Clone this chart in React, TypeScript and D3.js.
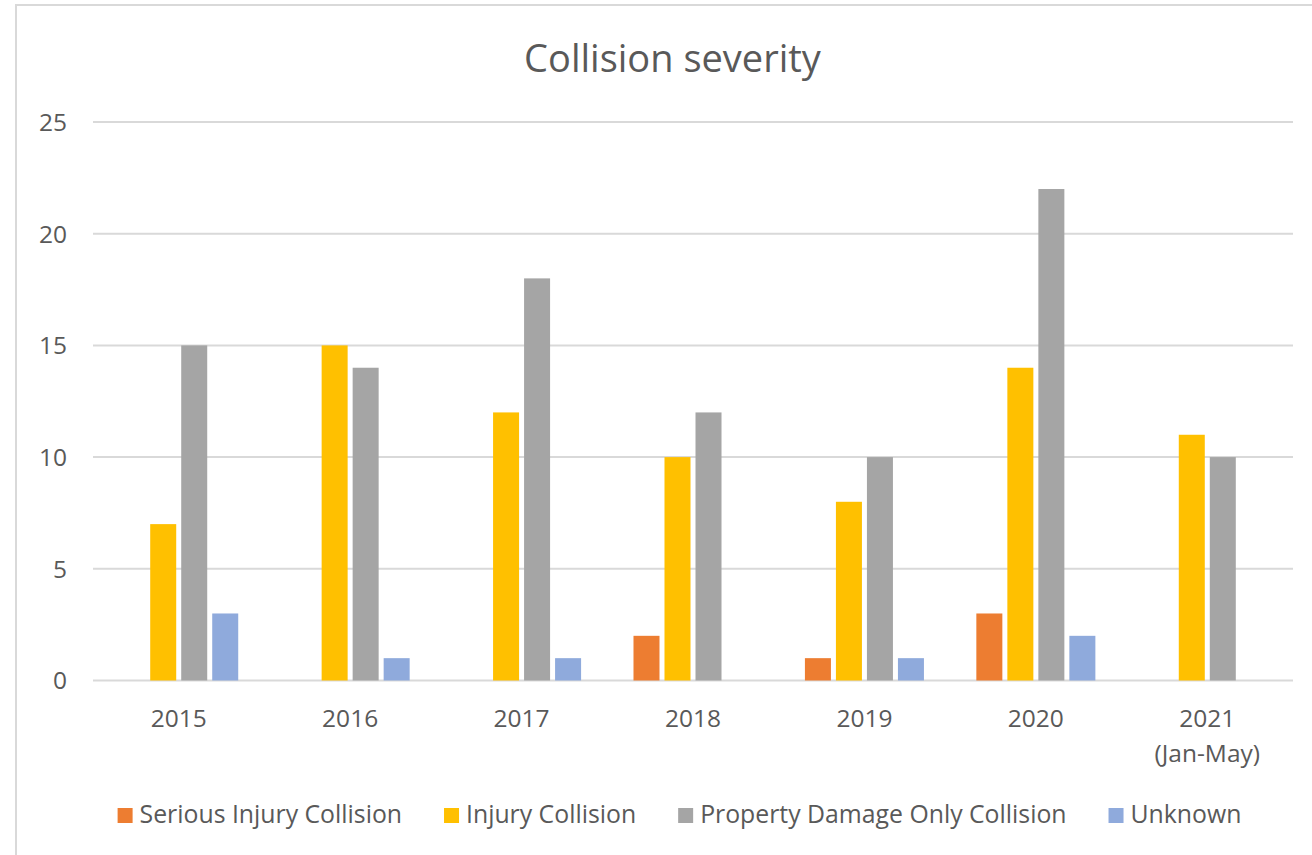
import React, { useRef, useEffect } from 'react';
import * as d3 from 'd3';

const years = ['2015', '2016', '2017', '2018', '2019', '2020', '2021\n(Jan-May)'];
const seriesNames = ['Serious Injury Collision', 'Injury Collision', 'Property Damage Only Collision', 'Unknown'];
const seriousInjury = [0, 0, 0, 2, 1, 3, 0];
const injury = [7, 15, 12, 10, 8, 14, 11];
const propertyDamage = [15, 14, 18, 12, 10, 22, 10];
const unknown = [3, 1, 1, 0, 1, 2, 0];
const yTicks = [0, 5, 10, 15, 20, 25];
const colors = ['#ED7D31', '#FFC000', '#A5A5A5', '#8FAADC'];

const FONT = '"Open Sans", "DejaVu Sans", sans-serif';
const TEXT = '#595959';

const App: React.FC = () => {
  const ref = useRef<SVGSVGElement>(null);

  useEffect(() => {
    const svg = d3.select(ref.current);
    svg.selectAll('*').remove();
    const width = 1312;
    const height = 855;
    const margin = { top: 122, right: 19, bottom: 174.5, left: 93 };

    svg.attr('width', width).attr('height', height);

    // chart frame (cropped on right and bottom)
    svg.append('rect')
      .attr('x', 16).attr('y', 5)
      .attr('width', width).attr('height', height)
      .attr('fill', '#fff')
      .attr('stroke', '#D9D9D9')
      .attr('stroke-width', 2);

    const values = [seriousInjury, injury, propertyDamage, unknown];

    const x0 = d3.scaleBand<string>()
      .domain(years)
      .range([margin.left, width - margin.right]);

    const x1 = d3.scaleBand<string>()
      .domain(seriesNames)
      .range([0, x0.bandwidth()])
      .paddingInner(5 / 31)
      .paddingOuter(0.845);

    const y = d3.scaleLinear()
      .domain([0, 25])
      .range([height - margin.bottom, margin.top]);

    // title
    svg.append('text')
      .attr('x', 672.5)
      .attr('y', 72)
      .attr('text-anchor', 'middle')
      .attr('font-family', FONT)
      .attr('font-size', 38)
      .attr('fill', TEXT)
      .text('Collision severity');

    // gridlines
    svg.append('g')
      .selectAll('line')
      .data(yTicks)
      .join('line')
      .attr('x1', margin.left)
      .attr('x2', width - margin.right)
      .attr('y1', d => y(d))
      .attr('y2', d => y(d))
      .attr('stroke', '#D9D9D9')
      .attr('stroke-width', 2);

    // y labels
    svg.append('g')
      .selectAll('text')
      .data(yTicks)
      .join('text')
      .attr('x', margin.left - 26)
      .attr('y', d => y(d))
      .attr('dy', '0.36em')
      .attr('text-anchor', 'end')
      .attr('font-family', FONT)
      .attr('font-size', 24.5)
      .attr('fill', TEXT)
      .text(d => String(d));

    // bars
    svg.append('g')
      .selectAll('g')
      .data(seriesNames)
      .join('g')
      .attr('fill', (d, i) => colors[i])
      .selectAll('rect')
      .data((s, i) => values[i].map((v, j) => ({ s, v, year: years[j] })))
      .join('rect')
      .attr('x', d => x0(d.year)! + x1(d.s)!)
      .attr('y', d => y(d.v))
      .attr('width', x1.bandwidth())
      .attr('height', d => y(0) - y(d.v));

    // x labels
    const xl = svg.append('g')
      .selectAll('text')
      .data(years)
      .join('text')
      .attr('x', d => x0(d)! + x0.bandwidth() / 2)
      .attr('y', y(0) + 46.5)
      .attr('text-anchor', 'middle')
      .attr('font-family', FONT)
      .attr('font-size', 24.5)
      .attr('fill', TEXT);
    xl.each(function (d) {
      const t = d3.select(this);
      d.split('\n').forEach((line, k) => {
        t.append('tspan')
          .attr('x', x0(d)! + x0.bandwidth() / 2)
          .attr('dy', k === 0 ? 0 : 35)
          .text(line);
      });
    });

    // legend
    const legend = svg.append('g');
    const items = legend.selectAll('g')
      .data(seriesNames)
      .join('g');
    items.append('rect')
      .attr('width', 15)
      .attr('height', 15)
      .attr('y', -15)
      .attr('fill', (d, i) => colors[i]);
    items.append('text')
      .attr('x', 22)
      .attr('font-family', FONT)
      .attr('font-size', 24.8)
      .attr('fill', TEXT)
      .text(d => d);

    const widths: number[] = [];
    items.select('text').each(function () {
      widths.push((this as SVGTextElement).getComputedTextLength());
    });
    const gap = 42;
    const total = d3.sum(widths, w => w + 22) + gap * (widths.length - 1);
    let cx = 679.5 - total / 2;
    items.attr('transform', (d, i) => {
      const pos = cx;
      cx += widths[i] + 22 + gap;
      return `translate(${pos},823)`;
    });
  }, []);

  return <svg ref={ref} style={{ position: 'absolute', left: 0, top: 0 }}></svg>;
};

export default App;
